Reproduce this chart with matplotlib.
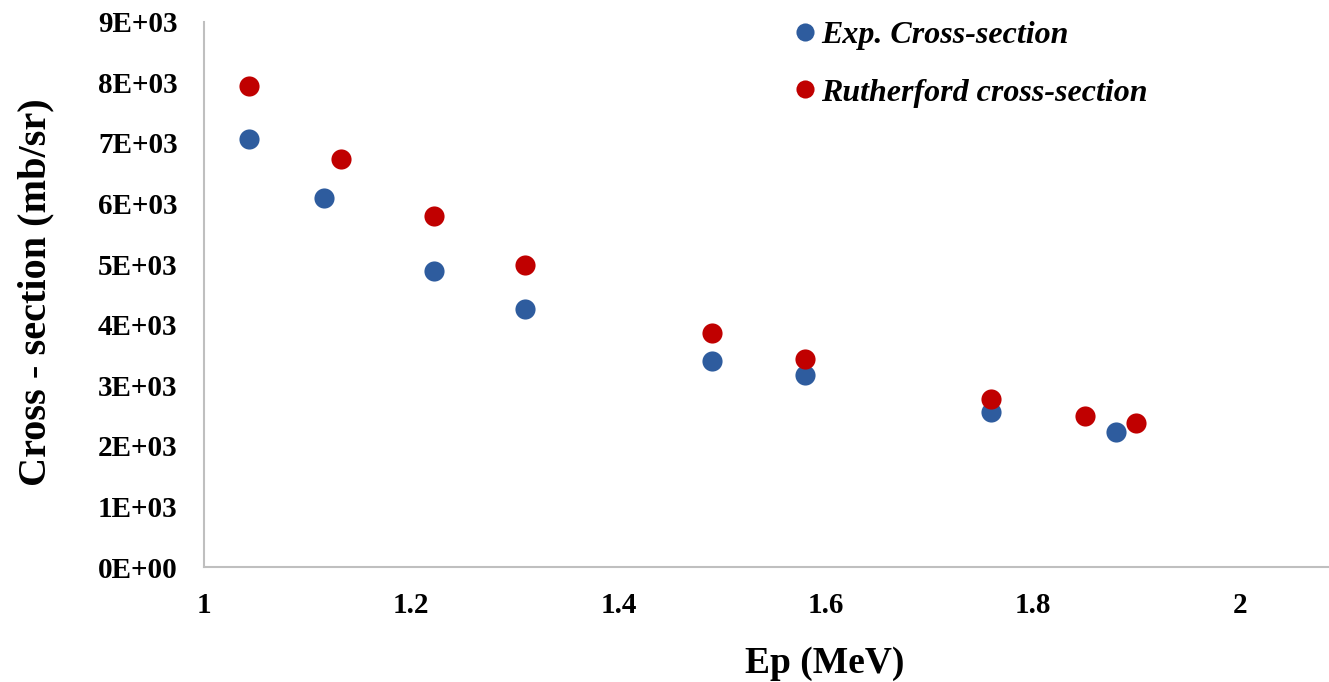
import numpy as np
import matplotlib.pyplot as plt
from matplotlib.ticker import FuncFormatter, FixedLocator

# data
ep_exp = [1.043, 1.116, 1.222, 1.31, 1.49, 1.58, 1.76, 1.88]
cs_exp = [7060, 6090, 4880, 4260, 3400, 3170, 2560, 2230]

ep_ruth = [1.043, 1.132, 1.222, 1.31, 1.49, 1.58, 1.76, 1.85, 1.90]
cs_ruth = [7940, 6730, 5790, 4980, 3860, 3430, 2770, 2490, 2380]

x_ticks = [1, 1.2, 1.4, 1.6, 1.8, 2]
x_labels = ["1", "1.2", "1.4", "1.6", "1.8", "2"]
y_ticks = np.arange(0, 10000, 1000)

plt.rcParams['font.family'] = ['Liberation Serif', 'DejaVu Serif']

fig = plt.figure(figsize=(13.29, 6.82), dpi=100)
ax = fig.add_axes([0.1535, 0.1686, 0.8465, 0.7994])

ax.plot(ep_exp, cs_exp, 'o', color='#2E5C9E', markersize=14.5, markeredgewidth=0,
        label='Exp. Cross-section')
ax.plot(ep_ruth, cs_ruth, 'o', color='#C00000', markersize=14.5, markeredgewidth=0,
        label='Rutherford cross-section')

ax.set_xlim(1, 2.086)
ax.set_ylim(0, 9000)
ax.xaxis.set_major_locator(FixedLocator(x_ticks))
ax.set_xticklabels(x_labels)
ax.yaxis.set_major_locator(FixedLocator(y_ticks))
ax.yaxis.set_major_formatter(FuncFormatter(lambda v, p: f"{v:.0E}"))

ax.tick_params(length=0, labelsize=21)
ax.tick_params(axis='y', pad=19)
ax.tick_params(axis='x', pad=18)
for lab in ax.get_xticklabels() + ax.get_yticklabels():
    lab.set_fontweight('bold')

for s in ['top', 'right']:
    ax.spines[s].set_visible(False)
for s in ['left', 'bottom']:
    ax.spines[s].set_color('#BFBFBF')
    ax.spines[s].set_linewidth(1.5)

ax.set_xlabel('Ep (MeV)', fontsize=27, fontweight='bold')
ax.xaxis.set_label_coords(0.552, -0.145)
ax.set_ylabel('Cross - section (mb/sr)', fontsize=29, fontweight='bold')
ax.yaxis.set_label_coords(-0.133, 0.505)

leg = ax.legend(loc='upper left', bbox_to_anchor=(0.52, 1.002), frameon=False,
                prop={'size': 23, 'style': 'italic', 'weight': 'bold'},
                handletextpad=0.0, labelspacing=0.88, handlelength=1.0,
                borderpad=0, borderaxespad=0, markerscale=0.9)

fig.savefig('out.png', dpi=100)
